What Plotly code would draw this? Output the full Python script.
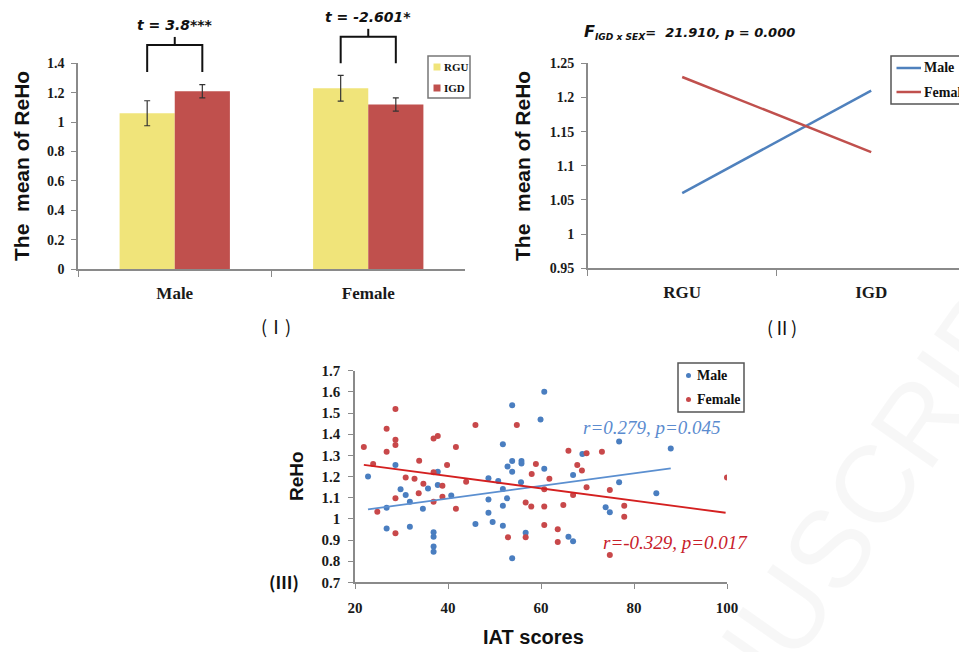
import plotly.graph_objects as go

# The page places the figure 8px from the top-left corner, so the figure is
# sized to end exactly at the window edge and pixel helpers subtract 8px.
OFF = 8
W, H = 967 - OFF, 652 - OFF

# ---------------- Panel I data ----------------
groups = ["Male", "Female"]
rgu_means = [1.06, 1.23]
rgu_err = [0.085, 0.088]
igd_means = [1.21, 1.12]
igd_err = [0.045, 0.045]
t_labels = ["t = 3.8***", "t = -2.601*"]
bracket_low = [1.34, 1.40]
bracket_top = [1.525, 1.58]

# ---------------- Panel II data ----------------
conditions = ["RGU", "IGD"]
male_means = [1.06, 1.21]
female_means = [1.23, 1.12]

# ---------------- Panel III data ----------------
male_iat = [22.8, 28.7, 37.8, 37.8, 29.8, 30.9, 31.8, 26.8, 34.6, 35.7,
            40.7, 26.8, 31.8, 36.9, 36.9, 36.9, 36.9, 45.9, 48.7, 50.8,
            55.7, 51.8, 48.7, 52.7, 51.8, 48.7, 49.6, 51.8, 56.7, 53.8,
            65.9, 66.9, 60.7, 53.8, 59.9, 51.8, 53.8, 55.8, 55.8, 52.8,
            53.8, 60.7, 68.9, 66.9, 76.8, 87.9, 76.8, 84.8, 73.9, 74.8]
male_reho = [1.200, 1.255, 1.223, 1.160, 1.140, 1.113, 1.081, 1.053, 1.048, 1.144,
             1.110, 0.955, 0.963, 0.937, 0.916, 0.869, 0.845, 0.976, 1.192, 1.179,
             1.173, 1.141, 1.092, 1.097, 1.062, 1.029, 0.985, 0.968, 0.935, 0.814,
             0.916, 0.894, 1.600, 1.537, 1.469, 1.352, 1.273, 1.273, 1.262, 1.247,
             1.223, 1.237, 1.307, 1.207, 1.365, 1.333, 1.173, 1.121, 1.055, 1.031]
female_iat = [21.9, 23.9, 28.7, 26.8, 28.7, 28.7, 26.8, 33.8, 36.9, 37.8,
              41.7, 45.9, 39.8, 36.9, 30.9, 32.8, 34.7, 43.9, 38.8, 28.7,
              24.8, 28.7, 33.7, 36.9, 38.8, 41.7, 54.8, 65.9, 69.8, 73.1,
              58.9, 67.8, 68.8, 58.0, 61.8, 100.0, 60.7, 66.9, 69.8, 56.7,
              57.9, 60.7, 64.8, 60.7, 63.6, 56.7, 52.9, 63.6, 74.8, 77.9,
              77.9, 74.8]
female_reho = [1.340, 1.259, 1.519, 1.426, 1.374, 1.349, 1.317, 1.275, 1.380, 1.392,
               1.340, 1.444, 1.255, 1.220, 1.195, 1.190, 1.166, 1.176, 1.157, 1.097,
               1.034, 0.932, 1.121, 1.081, 1.105, 1.048, 1.444, 1.322, 1.310, 1.317,
               1.259, 1.255, 1.228, 1.212, 1.190, 1.195, 1.140, 1.113, 1.149, 1.078,
               1.058, 1.058, 1.066, 0.971, 0.951, 0.913, 0.913, 0.891, 1.136, 1.062,
               1.010, 0.829]
male_fit_x = [22.8, 87.9]
male_fit_y = [1.045, 1.239]
female_fit_x = [21.9, 99.7]
female_fit_y = [1.255, 1.029]
male_stat = "r=0.279, p=0.045"
female_stat = "r=-0.329, p=0.017"

# ---------------- styling ----------------
SERIF = "Liberation Serif"
SANS = "Liberation Sans"
CJK = "Noto Sans CJK SC"
YELLOW = "#F0E47A"
RED_BAR = "#C0504D"
BLUE_LINE = "#4F81BD"
RED_LINE = "#C0504D"
DOT_BLUE = "#4A7EC0"
DOT_RED = "#C8484A"
FIT_BLUE = "#5B8FD0"
FIT_RED = "#D42020"
AXC = "#8a8a8a"


def fx(px):
    return (px - OFF) / W


def fy(py):
    return 1 - (py - OFF) / H


# panel geometry (window pixels)
P1 = dict(x0=78, x1=465, y0=269, y1=63.3)
P2 = dict(x0=587.7, x1=965.7, y0=268.3, y1=63.3)
P3 = dict(x0=355, x1=727, y0=582.4, y1=370.7)

fig = go.Figure()

# Panel I bars
fig.add_trace(go.Bar(x=groups, y=rgu_means, name="RGU", marker_color=YELLOW,
                     marker_line_width=0,
                     error_y=dict(type="data", array=rgu_err, color="#333333",
                                  thickness=1.2, width=3),
                     xaxis="x", yaxis="y", showlegend=False))
fig.add_trace(go.Bar(x=groups, y=igd_means, name="IGD", marker_color=RED_BAR,
                     marker_line_width=0,
                     error_y=dict(type="data", array=igd_err, color="#333333",
                                  thickness=1.2, width=3),
                     xaxis="x", yaxis="y", showlegend=False))

# Panel II lines
fig.add_trace(go.Scatter(x=conditions, y=male_means, mode="lines", name="Male",
                         line=dict(color=BLUE_LINE, width=2.5),
                         xaxis="x2", yaxis="y2", showlegend=False))
fig.add_trace(go.Scatter(x=conditions, y=female_means, mode="lines", name="Female",
                         line=dict(color=RED_LINE, width=2.5),
                         xaxis="x2", yaxis="y2", showlegend=False))

# Panel III scatter
fig.add_trace(go.Scatter(x=male_iat, y=male_reho, mode="markers", name="Male",
                         marker=dict(color=DOT_BLUE, size=6),
                         xaxis="x3", yaxis="y3", showlegend=False))
fig.add_trace(go.Scatter(x=female_iat, y=female_reho, mode="markers", name="Female",
                         marker=dict(color=DOT_RED, size=6),
                         xaxis="x3", yaxis="y3", showlegend=False))
fig.add_trace(go.Scatter(x=male_fit_x, y=male_fit_y, mode="lines",
                         line=dict(color=FIT_BLUE, width=1.8),
                         xaxis="x3", yaxis="y3", showlegend=False, hoverinfo="skip"))
fig.add_trace(go.Scatter(x=female_fit_x, y=female_fit_y, mode="lines",
                         line=dict(color=FIT_RED, width=1.8),
                         xaxis="x3", yaxis="y3", showlegend=False, hoverinfo="skip"))

tick_serif = lambda s: dict(family=SERIF, size=s, color="#1a1a1a", weight="bold")
common_axis = dict(showline=True, linecolor=AXC, linewidth=1.5, ticks="outside",
                   tickcolor=AXC, tickwidth=1.2, showgrid=False, zeroline=False,
                   fixedrange=True)

fig.update_layout(
    width=W, height=H,
    margin=dict(l=0, r=0, t=0, b=0, autoexpand=False),
    paper_bgcolor="white", plot_bgcolor="white",
    barmode="group", bargap=0.43, bargroupgap=0,
    showlegend=False,
    xaxis=dict(domain=[fx(P1["x0"]), fx(P1["x1"])], type="category",
               range=[-0.5, 1.5], tickson="boundaries", ticklen=6,
               tickfont=tick_serif(17), ticklabelstandoff=8, anchor="y",
               **common_axis),
    yaxis=dict(domain=[fy(P1["y0"]), fy(P1["y1"])], range=[0, 1.4], dtick=0.2,
               ticklen=5, tickfont=tick_serif(14), ticklabelstandoff=4,
               anchor="x", **common_axis),
    xaxis2=dict(domain=[fx(P2["x0"]), min(1.0, fx(P2["x1"]))], type="category",
                range=[-0.5, 1.5], tickson="boundaries", ticklen=6,
                tickfont=tick_serif(17), ticklabelstandoff=8, anchor="y2",
                **common_axis),
    yaxis2=dict(domain=[fy(P2["y0"]), fy(P2["y1"])], range=[0.95, 1.25],
                dtick=0.05, ticklen=5, tickfont=tick_serif(14),
                ticklabelstandoff=4, anchor="x2", **common_axis),
    xaxis3=dict(domain=[fx(P3["x0"]), fx(P3["x1"])], range=[20, 100], dtick=20,
                ticklen=5, tickfont=tick_serif(15), ticklabelstandoff=6,
                anchor="y3", **common_axis),
    yaxis3=dict(domain=[fy(P3["y0"]), fy(P3["y1"])], range=[0.7, 1.7], dtick=0.1,
                ticklen=5, tickfont=tick_serif(15), ticklabelstandoff=5,
                anchor="x3", **common_axis),
)

annotations = []
shapes = []


def add_text(px, py, text, size, family=SANS, color="#111111", bold=True,
             italic=False, angle=0, xanchor="center", yanchor="middle"):
    annotations.append(dict(
        x=fx(px), y=fy(py), xref="paper", yref="paper", text=text,
        showarrow=False, textangle=angle, xanchor=xanchor, yanchor=yanchor,
        font=dict(family=family, size=size, color=color,
                  weight="bold" if bold else "normal",
                  style="italic" if italic else "normal")))


# faint watermark
add_text(878, 478, "NUSCRIPT", 110, family=SANS, color="rgba(0,0,0,0.03)",
         bold=False, angle=-55)

# axis titles
add_text(22, 166, "The  mean of ReHo", 21, angle=-90)
add_text(523, 166, "The  mean of ReHo", 21, angle=-90)
add_text(296, 476, "ReHo", 19, angle=-90)
add_text(533, 637, "IAT scores", 20)

# panel labels
add_text(276, 326, "(Ⅰ)", 18, family=CJK, bold=False)
add_text(782, 327, "(Ⅱ)", 18, family=CJK, bold=False)
add_text(284, 581, "(Ⅲ)", 17, family=CJK, bold=True)

# Panel II title
add_text(582, 32,
         "<span style='font-size:16px'>F</span><sub>IGD x SEX</sub>=  21.910, p = 0.000",
         13, family="DejaVu Sans", italic=True, xanchor="left")

# significance brackets for panel I
cat_w = (P1["x1"] - P1["x0"]) / 2.0
bar_w = cat_w * (1 - 0.43) / 2.0
ppu = (P1["y0"] - P1["y1"]) / 1.4
for i, lab in enumerate(t_labels):
    cx = P1["x0"] + cat_w * (i + 0.5)
    xl = cx - bar_w / 2
    xr = cx + bar_w / 2
    ylow = P1["y0"] - bracket_low[i] * ppu
    ytop = P1["y0"] - bracket_top[i] * ppu
    line = dict(color="#111111", width=2)
    shapes.append(dict(type="path", xref="paper", yref="paper",
                       path=f"M {fx(xl)} {fy(ylow)} L {fx(xl)} {fy(ytop)} L {fx(xr)} {fy(ytop)} L {fx(xr)} {fy(ylow)}",
                       line=line))
    shapes.append(dict(type="line", xref="paper", yref="paper",
                       x0=fx(cx), x1=fx(cx), y0=fy(ytop), y1=fy(ytop - 8),
                       line=line))
    add_text(cx, ytop - 20, lab, 14, family="DejaVu Sans", italic=True)

# Legend panel I
shapes.append(dict(type="rect", xref="paper", yref="paper",
                   x0=fx(428), x1=fx(470), y0=fy(56), y1=fy(98),
                   line=dict(color="#777777", width=1.5), fillcolor="white"))
for (yy, col, lab) in [(67, YELLOW, "RGU"), (88, RED_BAR, "IGD")]:
    shapes.append(dict(type="rect", xref="paper", yref="paper",
                       x0=fx(433.5), x1=fx(440.5), y0=fy(yy - 3.5), y1=fy(yy + 3.5),
                       line=dict(width=0), fillcolor=col))
    add_text(442, yy, lab, 11, family=SERIF, xanchor="left")

# Legend panel II
shapes.append(dict(type="rect", xref="paper", yref="paper",
                   x0=fx(891), x1=1.01, y0=fy(56), y1=fy(104),
                   line=dict(color="#555555", width=1.5), fillcolor="white"))
for (yy, col, lab) in [(68, BLUE_LINE, "Male"), (92, RED_LINE, "Female")]:
    shapes.append(dict(type="line", xref="paper", yref="paper",
                       x0=fx(896.5), x1=fx(921), y0=fy(yy), y1=fy(yy),
                       line=dict(color=col, width=2.5)))
    add_text(922, yy, lab, 14, family=SERIF, xanchor="left")

# Legend panel III
shapes.append(dict(type="rect", xref="paper", yref="paper",
                   x0=fx(678), x1=fx(744), y0=fy(363), y1=fy(412),
                   line=dict(color="#555555", width=1.5), fillcolor="white"))
for (yy, col, lab) in [(375.5, DOT_BLUE, "Male"), (399.5, DOT_RED, "Female")]:
    shapes.append(dict(type="circle", xref="paper", yref="paper",
                       x0=fx(686), x1=fx(691), y0=fy(yy - 2.5), y1=fy(yy + 2.5),
                       line=dict(width=0), fillcolor=col))
    add_text(695, yy, lab, 14, family=SERIF, xanchor="left")

# correlation texts
add_text(652, 427, male_stat, 19, family=SERIF, color="#5B8BCF", bold=False,
         italic=True)
add_text(675, 542, female_stat, 19, family=SERIF, color="#C8202A", bold=False,
         italic=True)

fig.update_layout(annotations=annotations, shapes=shapes)

fig.write_html("out.html")
